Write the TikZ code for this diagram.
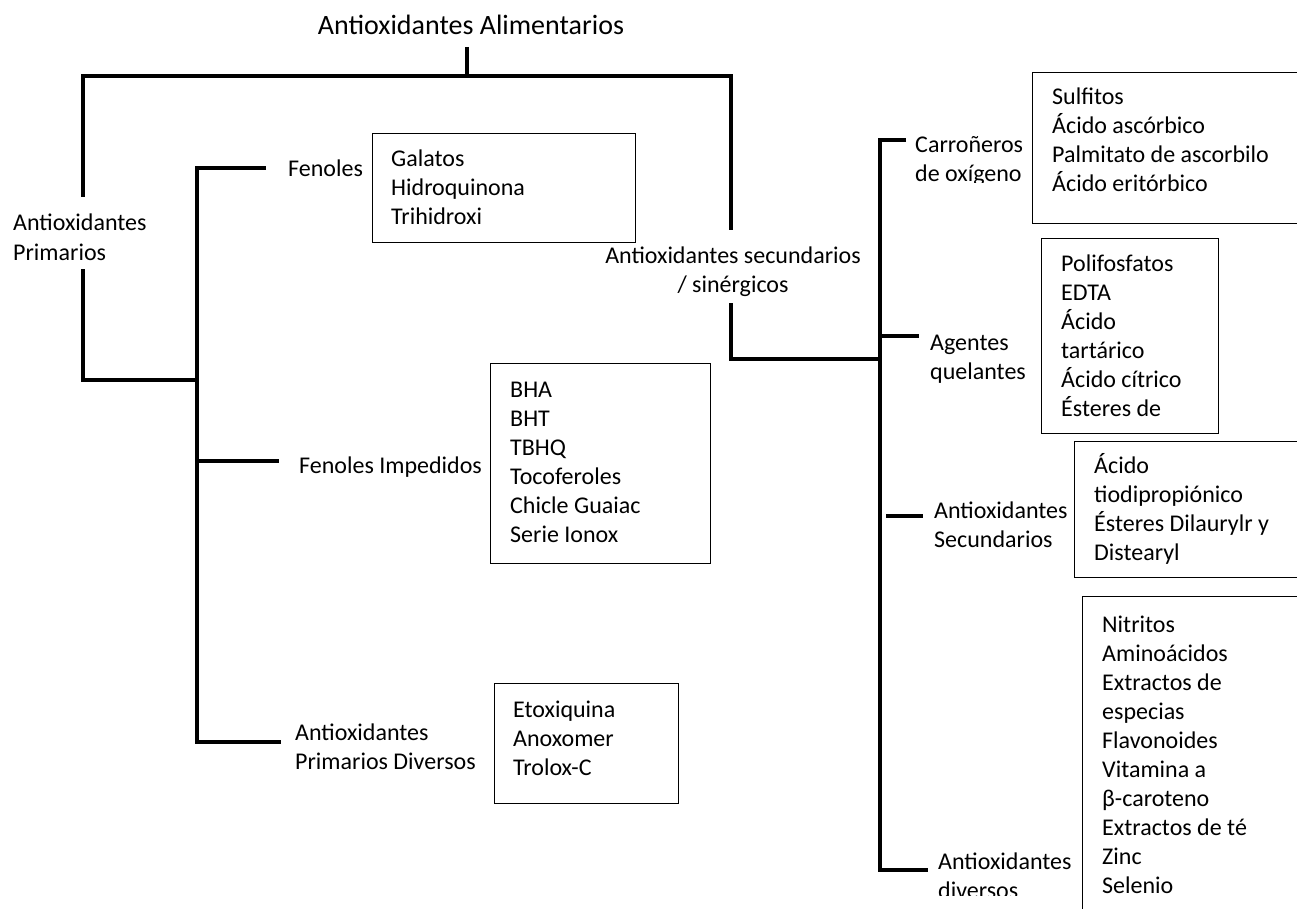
\documentclass[tikz,border=0pt]{standalone}
\usepackage{fontspec}
\setmainfont{Carlito}
\begin{document}
\begin{tikzpicture}[x=1pt,y=-1pt,
  conn/.style={draw=black,line width=3.6pt},
  lbl/.style={inner sep=0pt,anchor=base west,align=left,font=\fontsize{24}{29}\selectfont},
  boxnode/.style={draw=black,line width=1.2pt,anchor=north west,inner sep=0pt},
  listtext/.style={inner sep=0pt,anchor=base west,align=left,font=\fontsize{24}{29}\selectfont}]
\useasboundingbox (0,0) rectangle (1297,909);
% title
\node[inner sep=0pt,anchor=base,font=\fontsize{28}{34}\selectfont] (title) at (471,35) {Antioxidantes Alimentarios};
% coordinates
\coordinate (stemtop) at (467,47);
\coordinate (stem) at (467,76);
\coordinate (tl) at (83,76);
\coordinate (tr) at (731,76);
\coordinate (pa) at (83,197);
\coordinate (pb) at (83,269);
\coordinate (pc) at (83,380);
\coordinate (pd) at (197,380);
\coordinate (sa) at (731,230);
\coordinate (sb) at (731,303);
\coordinate (sc) at (731,359);
\coordinate (sd) at (880,359);
\coordinate (i0) at (197,168);
\coordinate (i1) at (266,168);
\coordinate (i2a) at (197,461);
\coordinate (i2) at (279,461);
\coordinate (i3) at (197,742);
\coordinate (i4) at (281,742);
\coordinate (r0) at (880,140);
\coordinate (r1) at (906,140);
\coordinate (r2a) at (880,336);
\coordinate (r2) at (919,336);
\coordinate (r3a) at (886,516);
\coordinate (r3) at (923,516);
\coordinate (r4) at (880,870);
\coordinate (r5) at (928,870);
% labels (anchor at the baseline of the last line)
\node[lbl] (prim) at (13,260) {Antioxidantes\\Primarios};
\node[lbl] (fen) at (288,177) {Fenoles};
\node[lbl] (fimp) at (299,473) {Fenoles Impedidos};
\node[lbl] (pdiv) at (295,769) {Antioxidantes\\Primarios Diversos};
\node[inner sep=0pt,anchor=base,align=center,font=\fontsize{24}{29}\selectfont] (sec) at (733,292) {Antioxidantes secundarios\\/ sinérgicos};
\begin{scope}
\clip (900,100) rectangle (1030,183);
\node[lbl] (carr) at (915,182) {Carroñeros\\de oxígeno};
\end{scope}
\node[lbl] (quel) at (930,379) {Agentes\\quelantes};
\node[lbl] (asec) at (934,547) {Antioxidantes\\Secundarios};
\begin{scope}
\clip (900,820) rectangle (1078,895);
\node[lbl] (adiv) at (938,898) {Antioxidantes\\diversos};
\end{scope}
% boxes
\node[boxnode,minimum width=263pt,minimum height=109pt] (bfen) at (372,133) {};
\node[listtext] (tfen) at (391,225) {Galatos\\Hidroquinona\\Trihidroxi};
\node[boxnode,minimum width=220pt,minimum height=200pt] (bimp) at (490,363) {};
\node[listtext] (timp) at (510,542) {BHA\\BHT\\TBHQ\\Tocoferoles\\Chicle Guaiac\\Serie Ionox};
\node[boxnode,minimum width=184pt,minimum height=120pt] (bdiv) at (494,683) {};
\node[listtext] (tdiv) at (513,775) {Etoxiquina\\Anoxomer\\Trolox-C};
\node[boxnode,minimum width=265pt,minimum height=151pt] (bcarr) at (1032,72) {};
\node[listtext] (tcarr) at (1052,192) {Sulfitos\\Ácido ascórbico\\Palmitato de ascorbilo\\Ácido eritórbico};
\node[boxnode,minimum width=177pt,minimum height=195pt] (bquel) at (1041,238) {};
\node[listtext] (tquel) at (1061,416) {Polifosfatos\\EDTA\\Ácido\\tartárico\\Ácido cítrico\\Ésteres de};
\node[boxnode,minimum width=223pt,minimum height=136pt] (basec) at (1074,441) {};
\node[listtext] (tasec) at (1094,560) {Ácido\\tiodipropiónico\\Ésteres Dilaurylr y\\Distearyl};
\node[boxnode,minimum width=215pt,minimum height=330pt] (badiv) at (1082,596) {};
\node[listtext] (tadiv) at (1102,893) {Nitritos\\Aminoácidos\\Extractos de\\especias\\Flavonoides\\Vitamina a\\β-caroteno\\Extractos de té\\Zinc\\Selenio};
% connectors
\draw[conn] (stemtop) -- (stem);
\draw[conn] (pa) -- (tl) -- (tr) -- (sa);
\draw[conn] (pb) -- (pc) -- (pd);
\draw[conn] (i1) -- (i0) -- (i3) -- (i4);
\draw[conn] (i2a) -- (i2);
\draw[conn] (sb) -- (sc) -- (sd);
\draw[conn] (r1) -- (r0) -- (r4) -- (r5);
\draw[conn] (r2a) -- (r2);
\draw[conn] (r3a) -- (r3);
\end{tikzpicture}
\end{document}
